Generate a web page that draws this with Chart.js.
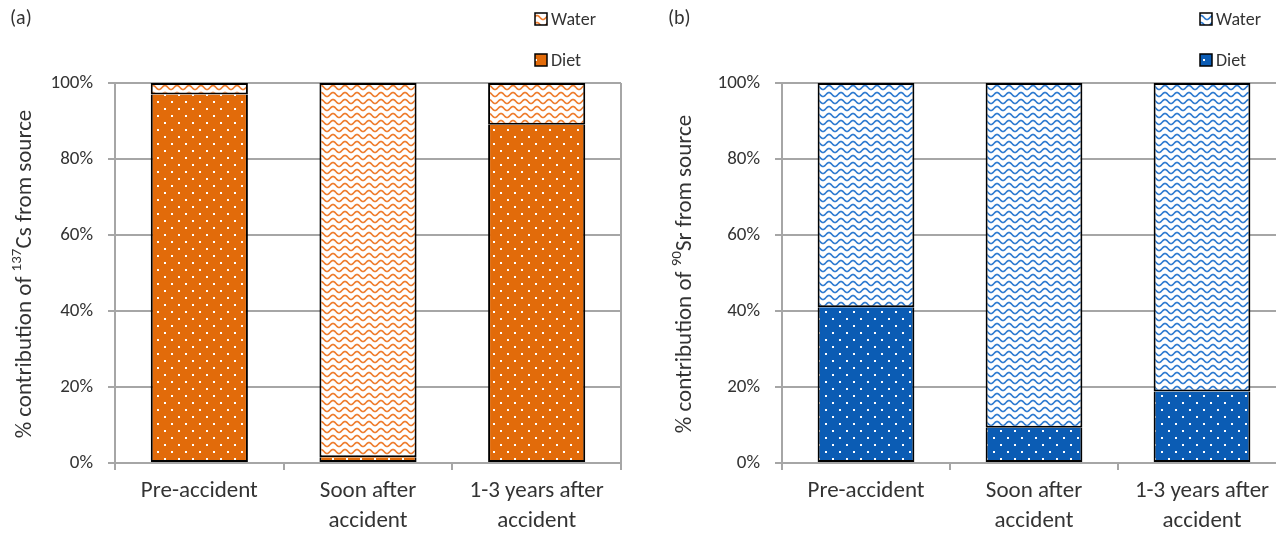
<!DOCTYPE html>
<html>
<head>
<meta charset="utf-8">
<script src="https://cdn.jsdelivr.net/npm/chart.js@4.4.1/dist/chart.umd.min.js"></script>
<style>
  html, body { margin: 0; padding: 0; background: #fff; overflow: hidden; }
  #wrapA { position: absolute; left: 0; top: 0; width: 640px; height: 534px; }
  #wrapB { position: absolute; left: 640px; top: 0; width: 660px; height: 534px; }
</style>
</head>
<body>
<div id="wrapA"><canvas id="chartA" width="640" height="534"></canvas></div>
<div id="wrapB"><canvas id="chartB" width="660" height="534"></canvas></div>
<script>
// === DATA ===
const categories = [['Pre-accident'], ['Soon after', 'accident'], ['1-3 years after', 'accident']]
const yTicks = [0, 20, 40, 60, 80, 100]
const csDiet = [97, 1.5, 89]
const csWater = [3, 98.5, 11]
const srDiet = [41, 9.3, 18.8]
const srWater = [59, 90.7, 81.2]

const FONT = "Carlito, Calibri, Lato, sans-serif"
const GRID = '#A6A6A6'
const TEXT = '#333333'

// === PATTERNS ===
function dotPattern(base) {
  const c = document.createElement('canvas')
  c.width = 14; c.height = 14
  const g = c.getContext('2d')
  g.fillStyle = base
  g.fillRect(0, 0, 14, 14)
  g.fillStyle = '#ffffff'
  g.fillRect(3, 3, 2, 2)
  g.fillRect(10, 10, 2, 2)
  return g.createPattern(c, 'repeat')
}

function wavePattern(line) {
  const c = document.createElement('canvas')
  c.width = 12; c.height = 7
  const g = c.getContext('2d')
  g.fillStyle = '#ffffff'
  g.fillRect(0, 0, 12, 7)
  g.strokeStyle = line
  g.lineWidth = 1.7
  g.beginPath()
  for (let x = -1; x <= 13; x += 0.5) {
    const y = 3.5 + 2 * Math.sin(2 * Math.PI * x / 12)
    if (x === -1) g.moveTo(x, y); else g.lineTo(x, y)
  }
  g.stroke()
  return g.createPattern(c, 'repeat')
}

// === PLUGIN: legend, panel letter, y title with superscript ===
const decorations = {
  id: 'decorations',
  afterDraw(chart, args, opts) {
    const ctx = chart.ctx
    ctx.save()
    ctx.font = '20px ' + FONT
    ctx.fillStyle = TEXT
    ctx.textBaseline = 'middle'
    ctx.textAlign = 'left'
    ctx.fillText(opts.letter, opts.letterX, 19)

    // legend, last dataset on top
    ctx.font = '18px ' + FONT
    const sets = chart.data.datasets.slice().reverse()
    sets.forEach((ds, i) => {
      const y = 19 + i * 41
      ctx.fillStyle = ds.backgroundColor
      ctx.fillRect(opts.legendX, y - 6, 12, 12)
      ctx.strokeStyle = '#000'
      ctx.lineWidth = 1.5
      ctx.strokeRect(opts.legendX, y - 6, 12, 12)
      ctx.fillStyle = TEXT
      ctx.fillText(ds.label, opts.legendX + 16, y + 1)
    })

    // rotated y title
    const big = '23px ' + FONT, small = '15px ' + FONT
    const parts = [[opts.titleA, big, 0], [opts.sup, small, -8], [opts.titleB, big, 0]]
    let total = 0
    parts.forEach(p => { ctx.font = p[1]; total += ctx.measureText(p[0]).width })
    ctx.translate(opts.titleX, 274)
    ctx.rotate(-Math.PI / 2)
    let x = -total / 2
    parts.forEach(p => {
      ctx.font = p[1]
      ctx.fillText(p[0], x, p[2])
      x += ctx.measureText(p[0]).width
    })
    ctx.restore()
  }
}

function makeChart(id, diet, water, dietColor, waveColor, yWidth, padRight, deco) {
  return new Chart(document.getElementById(id), {
    type: 'bar',
    data: {
      labels: categories,
      datasets: [
        { label: 'Diet', data: diet, backgroundColor: dotPattern(dietColor), borderSkipped: 'top' },
        { label: 'Water', data: water, backgroundColor: wavePattern(waveColor), borderSkipped: false }
      ]
    },
    options: {
      responsive: false,
      animation: false,
      layout: { padding: { top: 83, right: padRight, bottom: 0, left: 0 } },
      datasets: {
        bar: {
          borderColor: '#000',
          borderWidth: 2,
          barPercentage: 0.576,
          categoryPercentage: 1
        }
      },
      plugins: {
        legend: { display: false },
        tooltip: { enabled: false },
        decorations: deco
      },
      scales: {
        x: {
          stacked: true,
          afterFit: s => { s.height = 71 },
          border: { display: true, color: GRID, width: 2 },
          grid: {
            offset: true,
            drawOnChartArea: true,
            color: c => (c.index === undefined ? GRID : 'rgba(0,0,0,0)'),
            tickColor: GRID,
            lineWidth: 2,
            tickLength: 7
          },
          ticks: {
            color: TEXT,
            font: { family: FONT, size: 23, lineHeight: 1.3 },
            padding: 6,
            maxRotation: 0,
            autoSkip: false
          }
        },
        y: {
          stacked: true,
          min: 0,
          max: 100,
          afterFit: s => { s.width = yWidth },
          afterBuildTicks: s => { s.ticks = yTicks.map(v => ({ value: v })) },
          border: { display: true, color: GRID, width: 2 },
          grid: { color: GRID, lineWidth: 2, tickLength: 7 },
          ticks: {
            color: TEXT,
            font: { family: FONT, size: 19 },
            padding: 15,
            callback: v => v + '%'
          }
        }
      }
    },
    plugins: [decorations]
  })
}

makeChart('chartA', csDiet, csWater, '#E26B0A', '#EE7D2E', 115, 19, {
  letter: '(a)', letterX: 10, legendX: 535, titleX: 25,
  titleA: '% contribution of ', sup: '137', titleB: 'Cs from source'
})

makeChart('chartB', srDiet, srWater, '#0B5CB4', '#2F7BD0', 142, 14, {
  letter: '(b)', letterX: 28, legendX: 560, titleX: 45,
  titleA: '% contribution of ', sup: '90', titleB: 'Sr from source'
})
</script>
</body>
</html>
